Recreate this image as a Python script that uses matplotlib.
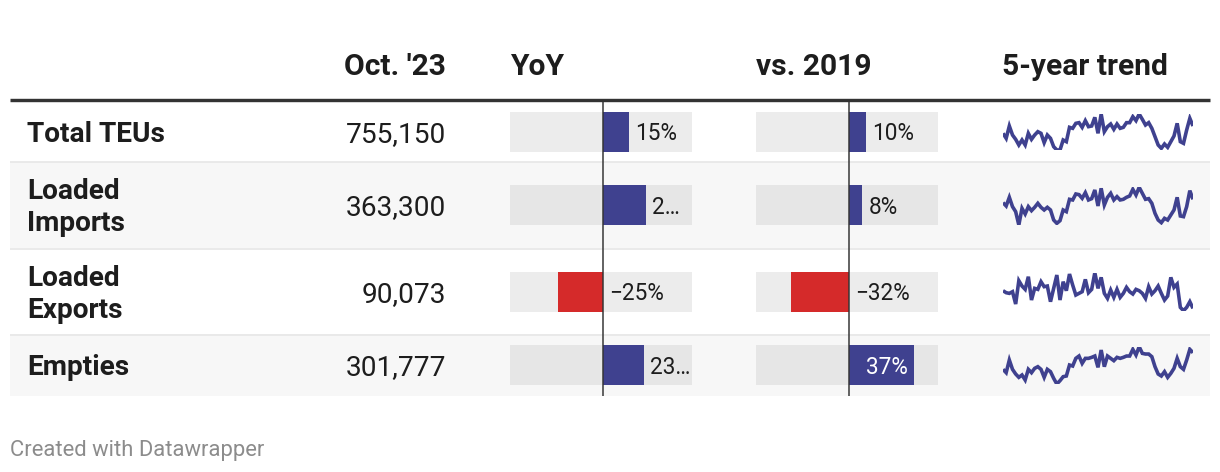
import matplotlib
matplotlib.use("Agg")
import matplotlib.pyplot as plt
from matplotlib.patches import Rectangle

# ---------------- data ----------------
rows = ["Total TEUs", "Loaded\nImports", "Loaded\nExports", "Empties"]
oct23 = [755150, 363300, 90073, 301777]
yoy = [14.6, 24.4, -25.4, 23.2]
yoy_labels = ["15%", "2…", "−25%", "23…"]
vs2019 = [9.8, 7.6, -32.4, 36.8]
vs2019_labels = ["10%", "8%", "−32%", "37%"]
headers = ["Oct. '23", "YoY", "vs. 2019", "5-year trend"]

trend_total = [700, 625, 810, 675, 610, 525, 600, 525, 700, 610, 675, 725, 700, 560, 675, 625,
               500, 450, 450, 600, 575, 790, 775, 850, 860, 790, 890, 800, 810, 940, 700, 990,
               725, 800, 840, 760, 840, 775, 790, 860, 860, 950, 890, 990, 910, 825, 860, 775,
               650, 525, 475, 540, 490, 575, 660, 850, 575, 550, 750, 925, 810]
trend_imports = [416, 386, 464, 380, 335, 215, 365, 314, 380, 344, 374, 410, 374, 350, 374, 350,
                 260, 230, 254, 350, 335, 446, 440, 494, 488, 455, 506, 440, 452, 530, 386, 545,
                 395, 464, 500, 440, 470, 440, 446, 464, 476, 536, 485, 554, 500, 446, 452, 410,
                 320, 260, 236, 275, 260, 305, 350, 464, 296, 290, 380, 524, 446]
trend_exports = [148, 142, 140, 145, 108, 178, 162, 152, 190, 120, 155, 152, 175, 160, 162, 115,
                 155, 195, 120, 175, 148, 198, 165, 135, 140, 145, 182, 142, 152, 202, 155, 188,
                 140, 125, 150, 128, 152, 128, 140, 158, 145, 138, 152, 148, 140, 125, 160, 138,
                 148, 162, 140, 120, 132, 188, 158, 168, 98, 88, 98, 115, 95]
trend_empties = [224, 204, 280, 224, 196, 176, 190, 160, 224, 204, 230, 240, 224, 176, 224, 210,
                 170, 136, 156, 180, 184, 250, 244, 290, 304, 260, 290, 290, 296, 304, 236, 340,
                 240, 304, 290, 276, 296, 290, 296, 304, 304, 344, 310, 360, 320, 316, 316, 300,
                 240, 196, 184, 210, 176, 200, 230, 290, 240, 224, 280, 344, 324]
trends = [trend_total, trend_imports, trend_exports, trend_empties]

# ---------------- style ----------------
W, H = 1220, 472
DPI = 100
PX = 72 / DPI  # points per pixel
NAVY = "#3f418f"
RED = "#d52a2a"
TXT = "#1d1d1d"
FONT = ["Roboto", "DejaVu Sans"]
plt.rcParams["font.family"] = FONT

fig = plt.figure(figsize=(W / DPI, H / DPI), dpi=DPI)
ax = fig.add_axes([0, 0, 1, 1])
ax.set_xlim(0, W)
ax.set_ylim(H, 0)
ax.axis("off")

# table geometry (pixels)
row_top = [101.7, 162.5, 249.0, 335.0]
row_bot = [161.7, 248.3, 334.3, 395.7]
row_ctr = [(a + b) / 2 for a, b in zip(row_top, row_bot)]
x_left, x_right = 10, 1210

# row backgrounds
for i in range(4):
    if i % 2 == 1:
        ax.add_patch(Rectangle((x_left, row_top[i] - 0.8), x_right - x_left,
                               row_bot[i] - row_top[i] + 0.8, color="#f7f7f7", lw=0, zorder=0))
for yy in [162.1, 248.7, 334.7]:
    ax.plot([x_left, x_right], [yy, yy], color="#e6e6e6", lw=1.6 * PX, zorder=1,
            solid_capstyle="butt")
ax.plot([x_left, x_right], [100.0, 100.0], color="#333333", lw=3.4 * PX, zorder=3,
        solid_capstyle="butt")

# header
FS_HEAD = 30 * PX
FS_BODY = 28 * PX
FS_LBL = 22.6 * PX
hb = 75
ax.text(446, hb, headers[0], ha="right", va="baseline", fontsize=FS_HEAD, fontweight="bold", color=TXT)
ax.text(510, hb, headers[1], ha="left", va="baseline", fontsize=FS_HEAD, fontweight="bold", color=TXT)
ax.text(756, hb, headers[2], ha="left", va="baseline", fontsize=FS_HEAD, fontweight="bold", color=TXT)
ax.text(1002, hb, headers[3], ha="left", va="baseline", fontsize=FS_HEAD, fontweight="bold", color=TXT)

# row labels & values
for i, (lab, val) in enumerate(zip(rows, oct23)):
    lines = lab.split("\n")
    n = len(lines)
    for k, ln in enumerate(lines):
        base = row_ctr[i] + 10 + (k - (n - 1) / 2) * 32
        ax.text(27, base, ln, ha="left", va="baseline", fontsize=FS_BODY,
                fontweight="bold", color=TXT)
    ax.text(446, row_ctr[i] + 10, f"{val:,}", ha="right", va="baseline",
            fontsize=FS_BODY, color=TXT)

# bar columns
XMIN, XMAX = -52.2, 50.0


def bar_column(x0, vals, labels):
    bax = fig.add_axes([x0 / W, 0, 182 / W, 1])
    bax.set_xlim(XMIN, XMAX)
    bax.set_ylim(H, 0)
    bax.axis("off")
    bgcols = ["#ececec", "#e6e6e6", "#ececec", "#e6e6e6"]
    bax.barh(row_ctr, [XMAX - XMIN] * 4, left=XMIN, height=40, color=bgcols, lw=0, zorder=1)
    cols = [NAVY if v >= 0 else RED for v in vals]
    bax.barh(row_ctr, vals, height=40, color=cols, lw=0, zorder=2)
    bax.plot([0, 0], [row_top[0], row_bot[-1]], color="#333333", alpha=0.75,
             lw=2.0 * PX, zorder=4, solid_capstyle="butt")
    for i, (v, t) in enumerate(zip(vals, labels)):
        base = row_ctr[i] + 8.2
        if v >= 0:
            if v > 30:
                bax.annotate(t, (v, base), xytext=(-7 * PX, 0), textcoords="offset points",
                             ha="right", va="baseline", fontsize=FS_LBL, color="white", zorder=5)
            else:
                bax.annotate(t, (v, base), xytext=(6 * PX, 0), textcoords="offset points",
                             ha="left", va="baseline", fontsize=FS_LBL, color=TXT, zorder=5)
        else:
            bax.annotate(t, (0, base), xytext=(6 * PX, 0), textcoords="offset points",
                         ha="left", va="baseline", fontsize=FS_LBL, color=TXT, zorder=5)


bar_column(510, yoy, yoy_labels)
bar_column(756, vs2019, vs2019_labels)

# sparklines
spark_top = [114.0, 187.3, 272.7, 346.7]
spark_bot = [150.0, 225.0, 310.7, 384.0]
for i, series in enumerate(trends):
    h = spark_bot[i] - spark_top[i]
    sax = fig.add_axes([1003 / W, 1 - spark_bot[i] / H, 190 / W, h / H])
    sax.plot(range(len(series)), series, color=NAVY, lw=3.6 * PX,
             solid_joinstyle="miter", solid_capstyle="butt")
    sax.set_xlim(0, len(series) - 1)
    sax.set_ylim(min(series), max(series))
    sax.axis("off")
    sax.patch.set_alpha(0)

# footer
ax.text(10, 456, "Created with Datawrapper", ha="left", va="baseline",
        fontsize=22 * PX, color="#8c8c8c")

fig.savefig("out.png", dpi=DPI)
